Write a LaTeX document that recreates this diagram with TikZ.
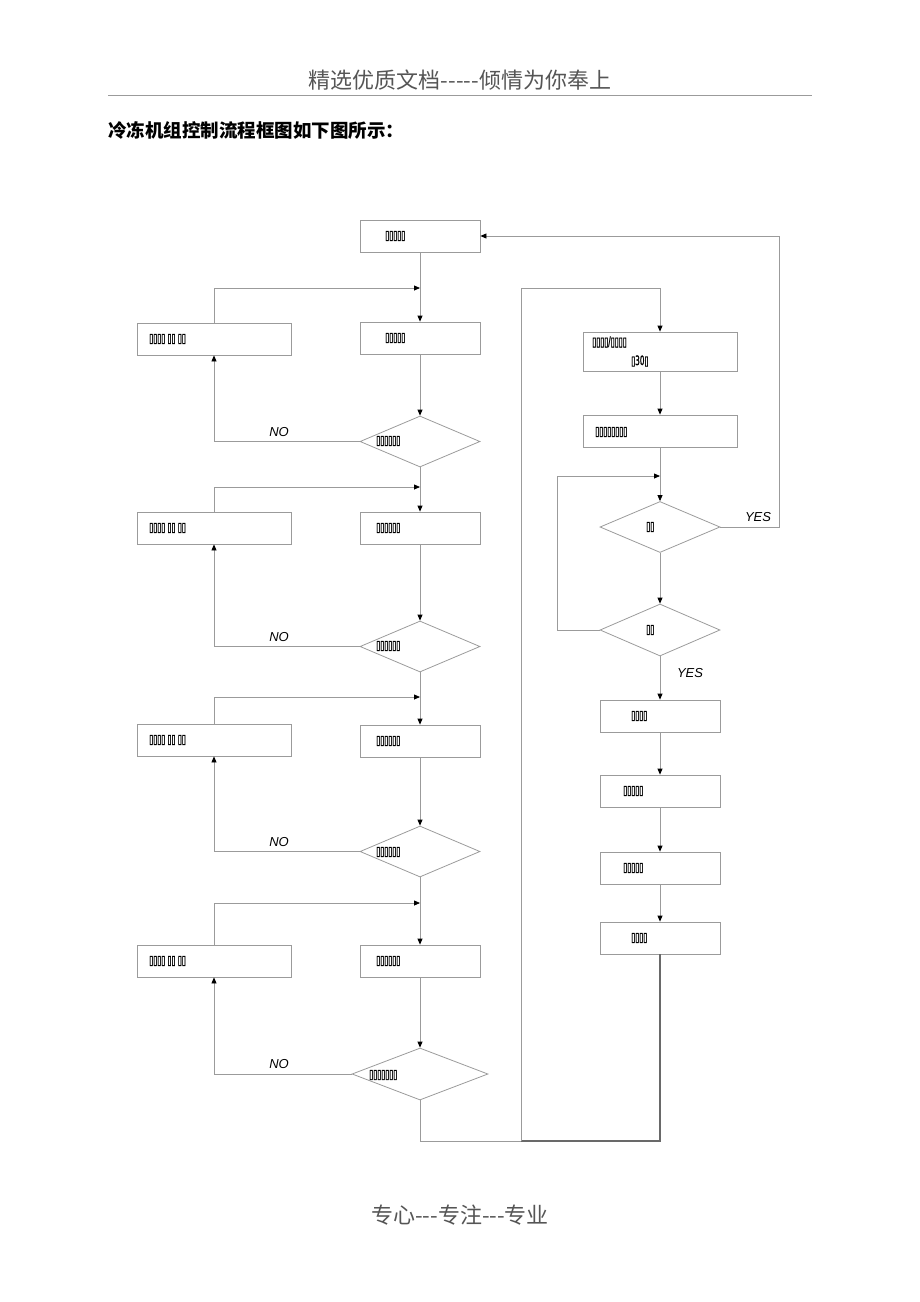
\documentclass[tikz,border=0pt]{standalone}
\usepackage{fontspec}
\usetikzlibrary{shapes.geometric,arrows.meta}
\newfontfamily\cjk{Noto Sans CJK SC}
\newfontfamily\tofu[FakeStretch=0.56,FakeBold=1.2]{DejaVu Sans}
\setsansfont{Liberation Sans}
\definecolor{lg}{RGB}{155,155,155}
\definecolor{dg}{RGB}{105,105,105}
\definecolor{hg}{RGB}{85,85,85}
\begin{document}
\begin{tikzpicture}[x=1pt,y=-1pt,
 box/.style={draw=lg, line width=0.8pt, rectangle, inner sep=0pt, minimum height=32pt},
 wbox/.style={box, minimum width=154pt},
 nbox/.style={box, minimum width=120pt},
 dia/.style={draw=lg, line width=0.8pt, diamond, inner sep=0pt, minimum width=120pt, minimum height=51pt},
 tx/.style={font=\tofu\fontsize{13}{13}\selectfont, inner sep=0pt, anchor=west},
 con/.style={draw=lg, line width=0.8pt},
 arr/.style={con, -{Triangle[length=6pt,width=5pt,black]}},
 lab/.style={font=\sffamily\itshape\fontsize{13}{13}\selectfont, inner sep=0pt},
]
\useasboundingbox (0,0) rectangle (920,1302);
% header / title / footer
\node[font=\cjk\fontsize{22}{22}\selectfont, text=hg, inner sep=0pt] (hdr) at (460,80) {精选优质文档-----倾情为你奉上};
\draw[draw=lg, line width=0.8pt] (108,95) -- (812,95);
\node[font=\cjk\bfseries\fontsize{18.5}{18.5}\selectfont, anchor=west, inner sep=0pt] (ttl) at (108,130) {冷冻机组控制流程框图如下图所示：};
\node[font=\cjk\fontsize{22}{22}\selectfont, text=hg, inner sep=0pt] (ftr) at (460,1215) {专心---专注---专业};

% left column
\node[nbox] (A) at (420,236) {};
\node[tx] (At) at (385,236) {▯▯▯▯▯};
\node[nbox] (B) at (420,338) {};
\node[tx] (Bt) at (385,338) {▯▯▯▯▯};
\node[wbox] (L1) at (214,339) {};
\node[tx] (L1t) at (149,339) {▯▯▯▯ ▯▯ ▯▯};
\node[dia] (D1) at (420,441.5) {};
\node[tx] (D1t) at (376,441) {▯▯▯▯▯▯};
\node[nbox] (C) at (420,528) {};
\node[tx] (Ct) at (376,528) {▯▯▯▯▯▯};
\node[wbox] (L2) at (214,528) {};
\node[tx] (L2t) at (149,528) {▯▯▯▯ ▯▯ ▯▯};
\node[dia] (D2) at (420,646.5) {};
\node[tx] (D2t) at (376,646) {▯▯▯▯▯▯};
\node[nbox] (Dd) at (420,741) {};
\node[tx] (Ddt) at (376,741) {▯▯▯▯▯▯};
\node[wbox] (L3) at (214,740) {};
\node[tx] (L3t) at (149,740) {▯▯▯▯ ▯▯ ▯▯};
\node[dia] (D3) at (420,851.5) {};
\node[tx] (D3t) at (376,852) {▯▯▯▯▯▯};
\node[nbox] (E) at (420,961) {};
\node[tx] (Et) at (376,961) {▯▯▯▯▯▯};
\node[wbox] (L4) at (214,961) {};
\node[tx] (L4t) at (149,961) {▯▯▯▯ ▯▯ ▯▯};
\node[dia, minimum width=136pt, minimum height=52pt] (D4) at (420,1074) {};
\node[tx] (D4t) at (369,1075) {▯▯▯▯▯▯▯};

% right column
\node[wbox, minimum height=39pt] (R1) at (660,351.5) {};
\node[tx] (R1t) at (592,342) {▯▯▯▯/▯▯▯▯};
\node[tx] (R1u) at (631,361) {▯30▯};
\node[wbox] (R2) at (660,431) {};
\node[tx] (R2t) at (595,432) {▯▯▯▯▯▯▯▯};
\node[dia] (RD1) at (660,527) {};
\node[tx] (RD1t) at (646,527) {▯▯};
\node[dia, minimum height=52pt] (RD2) at (660,630) {};
\node[tx] (RD2t) at (646,630) {▯▯};
\node[nbox] (R3) at (660,716) {};
\node[tx] (R3t) at (631,716) {▯▯▯▯};
\node[nbox] (R4) at (660,791) {};
\node[tx] (R4t) at (623,791) {▯▯▯▯▯};
\node[nbox] (R5) at (660,868) {};
\node[tx] (R5t) at (623,868) {▯▯▯▯▯};
\node[nbox] (R6) at (660,938) {};
\node[tx] (R6t) at (631,938) {▯▯▯▯};

% labels
\node[lab] (no1) at (279,432) {NO};
\node[lab] (no2) at (279,637) {NO};
\node[lab] (no3) at (279,842) {NO};
\node[lab] (no4) at (279,1064) {NO};
\node[lab] (yes1) at (758,517) {YES};
\node[lab] (yes2) at (690,673) {YES};

% coordinates
\coordinate (J1) at (420,288);
\coordinate (J2) at (420,487);
\coordinate (J3) at (420,697);
\coordinate (J4) at (420,903);
\coordinate (B1) at (420,1141);
\coordinate (B2) at (521,1141);
\coordinate (B3) at (660,1141);
\coordinate (T1) at (521,288);
\coordinate (J5) at (660,476);
\coordinate (K) at (557,476);
\coordinate (Y1) at (779,236);

% left connectors
\draw[arr] (A.south) -- (B.north);
\draw[arr] (L1.north) |- (J1);
\draw[arr] (B.south) -- (D1.north);
\draw[arr] (D1.west) -| (L1.south);
\draw[arr] (D1.south) -- (C.north);
\draw[arr] (L2.north) |- (J2);
\draw[arr] (C.south) -- (D2.north);
\draw[arr] (D2.west) -| (L2.south);
\draw[arr] (D2.south) -- (Dd.north);
\draw[arr] (L3.north) |- (J3);
\draw[arr] (Dd.south) -- (D3.north);
\draw[arr] (D3.west) -| (L3.south);
\draw[arr] (D3.south) -- (E.north);
\draw[arr] (L4.north) |- (J4);
\draw[arr] (E.south) -- (D4.north);
\draw[arr] (D4.west) -| (L4.south);
\draw[con] (D4.south) -- (B1) -- (B2);
\draw[con, draw=dg, line width=1.4pt] (R6.south) -- (B3) -- (B2);
\draw[arr] (B2) -- (T1) -| (R1.north);

% right connectors
\draw[arr] (R1.south) -- (R2.north);
\draw[arr] (R2.south) -- (RD1.north);
\draw[arr] (RD2.west) -| (K) -- (J5);
\draw[arr] (RD1.south) -- (RD2.north);
\draw[arr] (RD1.east) -| (Y1) -- (A.east);
\draw[arr] (RD2.south) -- (R3.north);
\draw[arr] (R3.south) -- (R4.north);
\draw[arr] (R4.south) -- (R5.north);
\draw[arr] (R5.south) -- (R6.north);
\end{tikzpicture}
\end{document}
